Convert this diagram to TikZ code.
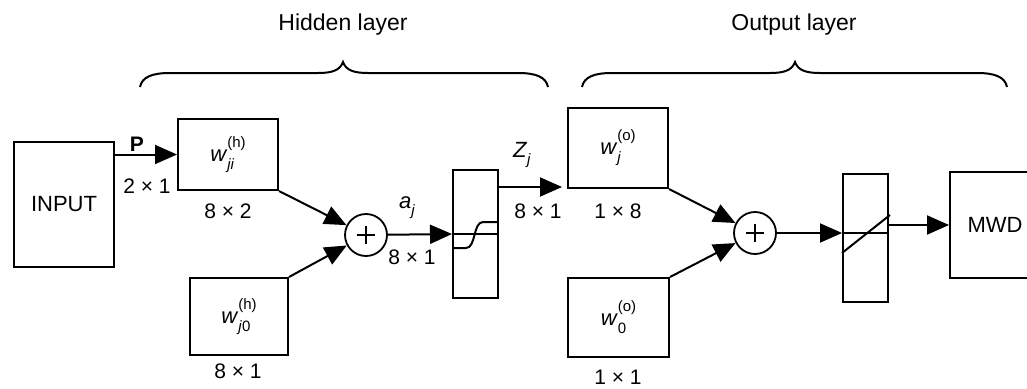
\documentclass[tikz,border=0pt]{standalone}
\usepackage{fontspec}
\setmainfont{Liberation Sans}
\usetikzlibrary{arrows.meta}
\newcommand{\fs}[1]{\fontsize{#1}{#1}\selectfont}
\newcommand{\wlab}[2]{\textit{w}\makebox[0pt][l]{\raisebox{-8pt}{\fs{15}#1}}\raisebox{14pt}{\fs{15}(#2)}}
\begin{document}
\begin{tikzpicture}[x=1pt,y=-1pt,
  box/.style={draw, line width=2pt, inner sep=0pt, font=\fs{22}},
  lab/.style={inner sep=0pt, font=\fs{21}},
  head/.style={inner sep=0pt, font=\fs{23}},
  arr/.style={line width=2pt, -{Triangle[length=22pt,width=19pt]}},
  ln/.style={line width=2pt},
  thin/.style={line width=1.4pt},
  sumnode/.style={circle, draw, line width=1.8pt, minimum size=42pt, inner sep=0pt}]
\useasboundingbox (0,0) rectangle (1027,388);

% boxes
\node[box, minimum width=100pt, minimum height=125pt, font=\fs{22}] (input) at (64,204.5) {INPUT};
\node[box, minimum width=100pt, minimum height=71pt] (wji) at (228,154.5) {\wlab{\textit{ji}}{h}};
\node[box, minimum width=98pt, minimum height=77pt] (wj0) at (239,316.5) {\wlab{\textit{j}0}{h}};
\node[sumnode] (s1) at (366,235) {};
\node[box, minimum width=45pt, minimum height=128pt] (sig) at (475.5,234) {};
\node[box, minimum width=100pt, minimum height=80pt] (wjo) at (618,148) {\wlab{\textit{j}}{o}};
\node[box, minimum width=101pt, minimum height=79pt] (wo0) at (618.5,317.5) {\wlab{0}{o}};
\node[sumnode] (s2) at (755,233) {};
\node[box, minimum width=45pt, minimum height=128pt] (lin) at (865.5,238) {};
\node[box, minimum width=90pt, minimum height=106pt, font=\fs{22}] (mwd) at (995,225) {MWD};

% plus signs
\draw[thin] ([xshift=-9pt]s1.center) -- ([xshift=9pt]s1.center);
\draw[thin] ([yshift=-9pt]s1.center) -- ([yshift=9pt]s1.center);
\draw[thin] ([xshift=-9pt]s2.center) -- ([xshift=9pt]s2.center);
\draw[thin] ([yshift=-9pt]s2.center) -- ([yshift=9pt]s2.center);

% transfer functions
\draw[ln] (sig.west) -- (sig.east);
\draw[ln] (453,248) -- (466,248) .. controls (476,248) and (473,222) .. (483,222) -- (498,222);
\draw[ln] (lin.west |- s2) -- (lin.east |- s2);
\draw[ln] (842,253) -- (890,215);

% connectors
\coordinate (zend) at (562,187);
\draw[arr] (wji.west -| input.east) -- (wji.west);
\draw[arr] (wji.south east) -- (s1);
\draw[arr] (wj0.north east) -- (s1);
\draw[arr] (s1) -- (sig.west);
\draw[arr] (sig.east |- zend) -- (zend);
\draw[arr] (wjo.south east) -- (s2);
\draw[arr] (wo0.north east) -- (s2);
\draw[arr] (s2) -- (lin.west |- s2);
\draw[arr] (mwd.west -| lin.east) -- (mwd.west);

% labels
\node[lab, font=\bfseries\fs{21}] (lP) at (137,144) {P};
\node[lab] (l21) at (147,186) {2 × 1};
\node[lab] (l82) at (228,211) {8 × 2};
\node[lab] (l81a) at (238,371) {8 × 1};
\node[lab] (laj) at (407,208) {\fs{22}\textit{a}\raisebox{-7pt}{\fs{15}\textit{j}}};
\node[lab] (l81b) at (412,257) {8 × 1};
\node[lab] (lZ) at (522,155) {\fs{22}\textit{Z}\raisebox{-7pt}{\fs{15}\textit{j}}};
\node[lab] (l81c) at (538,211) {8 × 1};
\node[lab] (l18) at (618,211) {1 × 8};
\node[lab] (l11) at (618,377) {1 × 1};

% braces and headings
\draw[ln] (140,87) .. controls (142,77) and (152,73) .. (170,73) -- (318,73)
  .. controls (333,73) and (340,70) .. (343,62) .. controls (346,70) and (353,73) .. (368,73)
  -- (518,73) .. controls (536,73) and (546,77) .. (548,87);
\draw[ln] (582,87) .. controls (584,77) and (594,73) .. (612,73) -- (770,73)
  .. controls (785,73) and (792,70) .. (795,62) .. controls (798,70) and (805,73) .. (820,73)
  -- (977,73) .. controls (995,73) and (1005,77) .. (1007,87);
\node[head] (hid) at (343,25) {Hidden layer};
\node[head] (out) at (794,25) {Output layer};
\end{tikzpicture}
\end{document}
